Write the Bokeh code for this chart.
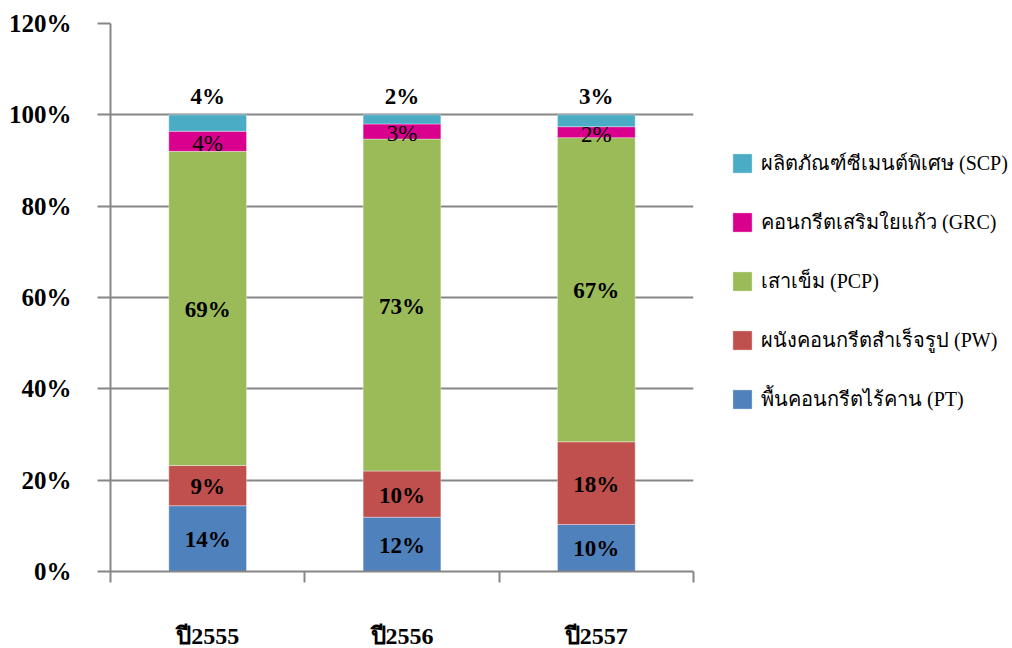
from bokeh.plotting import figure
from bokeh.models import ColumnDataSource, FixedTicker, Legend, LegendItem, Range1d
from bokeh.core.properties import value
from bokeh.embed import file_html
from bokeh.resources import INLINE

years = ["ปี2555", "ปี2556", "ปี2557"]
series_names = ["พื้นคอนกรีตไร้คาน (PT)", "ผนังคอนกรีตสำเร็จรูป (PW)", "เสาเข็ม (PCP)",
                "คอนกรีตเสริมใยแก้ว (GRC)", "ผลิตภัณฑ์ซีเมนต์พิเศษ (SCP)"]
PT = [14.4, 11.9, 10.3]
PW = [8.8, 10.1, 18.1]
PCP = [68.8, 72.7, 66.6]
GRC = [4.4, 3.3, 2.4]
SCP = [3.6, 2.0, 2.6]
colors = ["#4F81BD", "#C0504D", "#9BBB59", "#D9008D", "#4BACC6"]
y_ticks = [0, 20, 40, 60, 80, 100, 120]

keys = ["PT", "PW", "PCP", "GRC", "SCP"]
vals = [PT, PW, PCP, GRC, SCP]
xs = [i + 0.5 for i in range(len(years))]
data = dict(x=xs)
for k, v in zip(keys, vals):
    data[k] = v
src = ColumnDataSource(data)

FONT = "Times New Roman"
GRAY = "#868686"

p = figure(frame_width=583, frame_height=548, min_border_left=110, min_border_top=23,
           min_border_bottom=77, min_border_right=20,
           x_range=Range1d(0, 3), y_range=Range1d(0, 120),
           output_backend="svg", toolbar_location=None)
p.outline_line_color = None
p.background_fill_color = "white"

rs = p.vbar_stack(keys, x="x", width=0.4, color=colors, line_color="white", line_width=0.6,
                  line_alpha=0.6, source=src)

# labels
cum = [0.0] * len(years)
for si, v in enumerate(vals):
    lx, ly, lt = [], [], []
    for i in range(len(years)):
        lt.append(f"{v[i]:.0f}%")
        lx.append(xs[i])
        if si == 4:
            ly.append(cum[i] + v[i])
        else:
            ly.append(cum[i] + v[i] / 2)
        cum[i] += v[i]
    if si == 4:
        p.text(lx, ly, text=lt, text_font=value(FONT), text_font_style="bold",
               text_font_size="23px", text_align="center", text_baseline="bottom",
               y_offset=-6, text_color="black")
    elif si == 3:
        p.text(lx, ly, text=lt, text_font=value(FONT), text_font_style="normal",
               text_font_size="23px", text_align="center", text_baseline="middle",
               y_offset=2, text_color="black")
    else:
        p.text(lx, ly, text=lt, text_font=value(FONT), text_font_style="bold",
               text_font_size="23px", text_align="center", text_baseline="middle",
               y_offset=1, text_color="black")

# axes
p.xgrid.visible = False
p.ygrid.grid_line_color = GRAY
p.ygrid.grid_line_width = 2
p.ygrid.ticker = FixedTicker(ticks=y_ticks)

ya = p.yaxis[0]
ya.ticker = FixedTicker(ticks=y_ticks, minor_ticks=[])
ya.major_label_overrides = {t: f"{t}%" for t in y_ticks}
ya.axis_line_color = GRAY
ya.axis_line_width = 2
ya.major_tick_line_color = GRAY
ya.major_tick_line_width = 2
ya.major_tick_out = 13
ya.major_tick_in = 0
ya.minor_tick_line_color = None
ya.major_label_text_font = FONT
ya.major_label_text_font_style = "bold"
ya.major_label_text_font_size = "25px"
ya.major_label_text_color = "black"
ya.major_label_standoff = 26

xa = p.xaxis[0]
xa.ticker = FixedTicker(ticks=xs, minor_ticks=[0, 1, 2, 3])
xa.major_label_overrides = {x: y for x, y in zip(xs, years)}
xa.axis_line_color = GRAY
xa.axis_line_width = 2
xa.major_tick_line_color = None
xa.major_tick_out = 0
xa.minor_tick_line_color = GRAY
xa.minor_tick_line_width = 2
xa.minor_tick_out = 11
xa.minor_tick_in = 0
xa.major_label_text_font = FONT
xa.major_label_text_font_style = "bold"
xa.major_label_text_font_size = "24px"
xa.major_label_text_color = "black"
xa.major_label_standoff = 40

items = [LegendItem(label=series_names[i], renderers=[rs[i]]) for i in range(4, -1, -1)]
legend = Legend(items=items, location=(37, 156), orientation="vertical")
legend.glyph_width = 24
legend.glyph_height = 24
legend.label_height = 24
legend.spacing = 27
legend.padding = 0
legend.margin = 0
legend.label_standoff = 7
legend.border_line_color = None
legend.background_fill_alpha = 0
legend.label_text_font = FONT
legend.label_text_font_size = "20px"
legend.label_text_color = "black"
p.add_layout(legend, "right")

open("out.html", "w").write(file_html(p, INLINE))
